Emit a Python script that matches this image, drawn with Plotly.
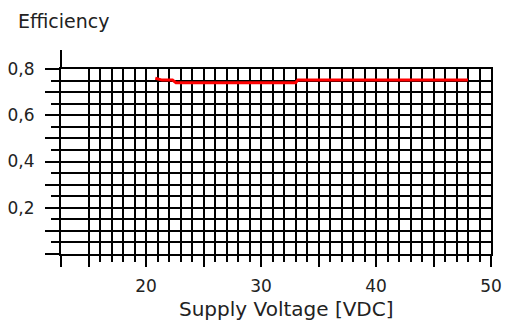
import plotly.graph_objects as go

# data
voltage = [20.8, 21.4, 22.3, 22.6, 33.0, 33.2, 48.0]
efficiency = [0.760, 0.752, 0.752, 0.741, 0.741, 0.752, 0.752]

x_major = [12.6, 15, 20, 25, 30, 35, 40, 45, 50]
x_major_text = ["", "", "20", "", "30", "", "40", "", "50"]
x_minor = [v for v in range(16, 50) if v % 5 != 0]

y_major = [0.0, 0.1, 0.2, 0.3, 0.4, 0.5, 0.6, 0.7, 0.8]
y_major_text = ["", "", "0,2", "", "0,4", "", "0,6", "", "0,8"]
y_minor = [0.05, 0.15, 0.25, 0.35, 0.45, 0.55, 0.65, 0.75]

FONT = "DejaVu Sans"

fig = go.Figure()
fig.add_trace(go.Scatter(x=voltage, y=efficiency, mode="lines",
                         line=dict(color="#ff0000", width=3), showlegend=False))

fig.update_layout(
    width=505, height=323,
    margin=dict(l=61, r=14, t=69, b=69),
    paper_bgcolor="white", plot_bgcolor="white",
    font=dict(family=FONT, color="#222222"),
    xaxis=dict(
        range=[12.6, 50], tickmode="array", tickvals=x_major, ticktext=x_major_text,
        ticks="outside", ticklen=11, tickwidth=2, tickcolor="black",
        showgrid=True, gridcolor="black", gridwidth=2,
        showline=True, linecolor="black", linewidth=2, mirror=True,
        zeroline=False, tickfont=dict(size=17, family=FONT, color="#222222"),
        ticklabelstandoff=5, automargin=False,
        minor=dict(tickmode="array", tickvals=x_minor, ticks="outside", ticklen=6,
                   tickwidth=2, tickcolor="black", showgrid=True,
                   gridcolor="black", gridwidth=2),
    ),
    yaxis=dict(
        range=[0, 0.8], tickmode="array", tickvals=y_major, ticktext=y_major_text,
        ticks="outside", ticklen=14, tickwidth=2, tickcolor="black",
        showgrid=True, gridcolor="black", gridwidth=2,
        showline=True, linecolor="black", linewidth=2, mirror=True,
        zeroline=False, tickfont=dict(size=17, family=FONT, color="#222222"),
        ticklabelstandoff=7, automargin=False,
        minor=dict(tickmode="array", tickvals=y_minor, ticks="outside", ticklen=8,
                   tickwidth=2, tickcolor="black", showgrid=True,
                   gridcolor="black", gridwidth=2),
    ),
    shapes=[dict(type="line", xref="paper", yref="paper", x0=0, x1=0,
                 y0=1, y1=1 + 19 / 185, line=dict(color="black", width=2))],
    annotations=[
        dict(text="Efficiency", xref="paper", yref="paper", x=-45 / 430, y=1 + 48 / 185,
             xanchor="left", yanchor="middle", showarrow=False,
             font=dict(size=19, family=FONT, color="#222222")),
        dict(text="Supply Voltage [VDC]", xref="paper", yref="paper", x=225 / 430,
             y=-55 / 185, xanchor="center", yanchor="middle", showarrow=False,
             font=dict(size=20, family=FONT, color="#222222")),
    ],
)

fig.write_html("out.html", config={"displayModeBar": False})

with open("out.html", encoding="utf-8") as f:
    html = f.read()
html = html.replace("<body>", '<body style="margin:0;padding:0;overflow:hidden">', 1)
with open("out.html", "w", encoding="utf-8") as f:
    f.write(html)
